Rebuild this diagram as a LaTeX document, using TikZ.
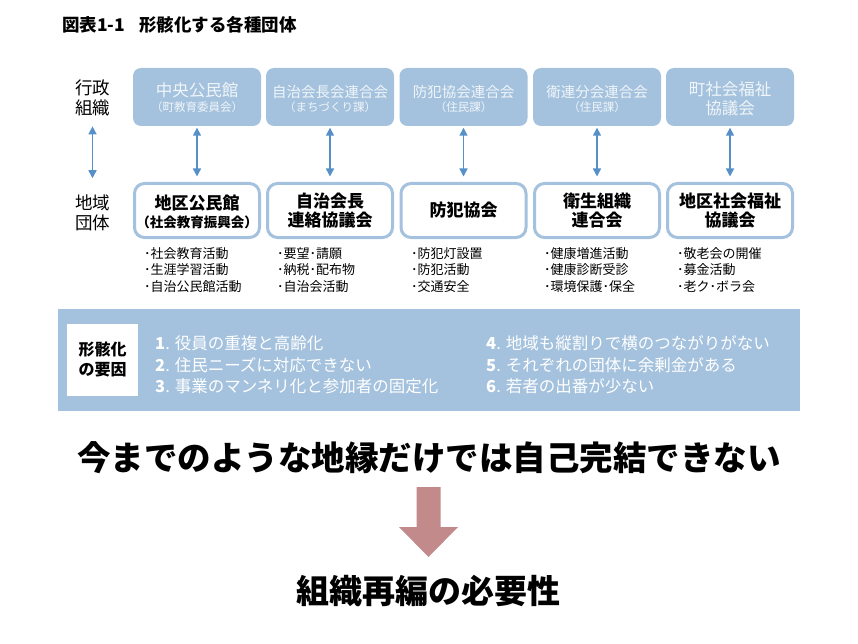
\documentclass[tikz,border=0pt]{standalone}
\usepackage{fontspec}
\setmainfont{Noto Sans CJK JP}
\usetikzlibrary{arrows.meta}
\definecolor{boxblue}{HTML}{A4C2DD}
\definecolor{arrblue}{HTML}{5590C8}
\definecolor{textw}{HTML}{F0F5FA}
\definecolor{rose}{HTML}{C38A8B}
\begin{document}
\begin{tikzpicture}[x=1pt,y=-1pt,
  topbox/.style={fill=boxblue, rounded corners=8pt, minimum width=128pt, minimum height=58pt, inner sep=0pt},
  botbox/.style={draw=boxblue, line width=3pt, fill=white, rounded corners=10pt, minimum width=125pt, minimum height=54pt, inner sep=0pt},
  ttbig/.style={text=textw, font=\fontsize{16.5}{19}\selectfont, inner sep=0pt, align=center},
  ttmid/.style={text=textw, font=\fontsize{14.5}{17}\selectfont, inner sep=0pt},
  ttsmall/.style={text=textw, font=\fontsize{11.5}{14}\selectfont, inner sep=0pt},
  bt/.style={font=\bfseries\fontsize{17}{19.5}\selectfont, align=center},
  btsmall/.style={font=\bfseries\fontsize{13.5}{16}\selectfont, inner sep=0pt},
  lab/.style={font=\fontsize{17.5}{20}\selectfont, inner sep=0pt, align=center},
  bul/.style={font=\fontsize{13}{16.5}\selectfont, inner sep=0pt, align=left, anchor=west},
  item/.style={text=white, font=\fontsize{16.5}{21.5}\selectfont, inner sep=0pt, align=left, anchor=west},
  link/.style={draw=arrblue, line width=1.4pt, {Triangle[length=8pt,width=8pt]}-{Triangle[length=8pt,width=8pt]}},
]
\useasboundingbox (0,0) rectangle (858,644);

% title
\node[anchor=west, font=\bfseries\fontsize{17.5}{19}\selectfont, inner sep=0pt] (title) at (62,25) {図表1-1\hspace{14pt}形骸化する各種団体};

% side labels
\node[lab] (l1) at (92.5,98) {行政\\組織};
\node[lab] (l2) at (92.5,212.5) {地域\\団体};
\draw[link, shorten <=10pt, shorten >=16pt] (l1) -- (l2);

% top boxes
\node[topbox] (t1) at (197,97) {};
\node[topbox] (t2) at (330,97) {};
\node[topbox] (t3) at (463.5,97) {};
\node[topbox] (t4) at (597,97) {};
\node[topbox] (t5) at (730,97) {};
\node[ttbig] (t1a) at (197,90) {中央公民館};
\node[ttsmall] (t1b) at (197,107) {（町教育委員会）};
\node[ttmid] (t2a) at (330,92) {自治会長会連合会};
\node[ttsmall] (t2b) at (330,107) {（まちづくり課）};
\node[ttmid] (t3a) at (463.5,92) {防犯協会連合会};
\node[ttsmall] (t3b) at (463.5,107) {（住民課）};
\node[ttmid] (t4a) at (597,92) {衛連分会連合会};
\node[ttsmall] (t4b) at (597,107) {（住民課）};
\node[ttbig] (t5a) at (730,99) {町社会福祉\\協議会};

% bottom boxes
\node[botbox] (b1) at (197,210.5) {};
\node[font=\bfseries\fontsize{17}{19}\selectfont, inner sep=0pt] (b1a) at (197,203) {地区公民館};
\node[btsmall] (b1b) at (197,222) {（社会教育振興会）};
\node[botbox, bt] (b2) at (330,210.5) {自治会長\\連絡協議会};
\node[botbox, bt] (b3) at (463.5,210.5) {防犯協会};
\node[botbox, bt] (b4) at (597,210.5) {衛生組織\\連合会};
\node[botbox, bt] (b5) at (730,210.5) {地区社会福祉\\協議会};

% links
\foreach \i in {1,...,5} {
  \draw[link, shorten <=1.5pt, shorten >=5.5pt] (t\i) -- (b\i);
}

% bullet lists
\node[bul] (u1) at (144,270) {･社会教育活動\\･生涯学習活動\\･自治公民館活動};
\node[bul] (u2) at (277,270) {･要望･請願\\･納税･配布物\\･自治会活動};
\node[bul] (u3) at (411,270) {･防犯灯設置\\･防犯活動\\･交通安全};
\node[bul] (u4) at (544,270) {･健康増進活動\\･健康診断受診\\･環境保護･保全};
\node[bul] (u5) at (677,270) {･敬老会の開催\\･募金活動\\･老ク･ボラ会};

% factors
\node[fill=boxblue, minimum width=742pt, minimum height=102pt, inner sep=0pt, anchor=north west] (fbox) at (58,309) {};
\node[fill=white, minimum width=71pt, minimum height=72pt, inner sep=0pt, align=center, font=\bfseries\fontsize{16}{20}\selectfont] (wbox) at (102.5,360) {形骸化\\の要因};
\node[item] (f1) at (155,365) {{\bfseries 1}. 役員の重複と高齢化\\{\bfseries 2}. 住民ニーズに対応できない\\{\bfseries 3}. 事業のマンネリ化と参加者の固定化};
\node[item] (f2) at (486,365) {{\bfseries 4}. 地域も縦割りで横のつながりがない\\{\bfseries 5}. それぞれの団体に余剰金がある\\{\bfseries 6}. 若者の出番が少ない};

% conclusion
\node[font=\bfseries\fontsize{33.5}{36}\selectfont, inner sep=0pt] (big) at (429,458) {今までのような地縁だけでは自己完結できない};
\fill[rose] (416.5,487) -- (440.5,487) -- (440.5,527) -- (458,527) -- (428.5,557) -- (399,527) -- (416.5,527) -- cycle;
\node[font=\bfseries\fontsize{33}{36}\selectfont, inner sep=0pt] (res) at (428,591) {組織再編の必要性};
\end{tikzpicture}
\end{document}
